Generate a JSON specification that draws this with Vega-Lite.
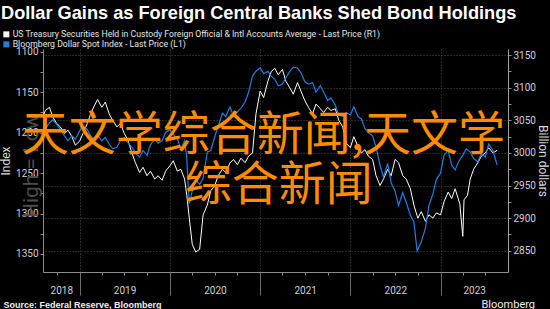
{
  "$schema": "https://vega.github.io/schema/vega-lite/v6.json",
  "width": 465,
  "height": 223,
  "autosize": {"type": "none"},
  "padding": {"left": 43, "top": 49, "right": 42, "bottom": 37},
  "background": "#000000",
  "title": {
    "text": "Dollar Gains as Foreign Central Banks Shed Bond Holdings",
    "anchor": "start",
    "frame": "group",
    "dx": -42,
    "offset": 7,
    "font": "Liberation Sans",
    "fontSize": 18.2,
    "fontWeight": "bold",
    "color": "#ffffff"
  },
  "config": {
    "view": {"stroke": null},
    "axis": {
      "labelFont": "Roboto",
      "labelFontSize": 10,
      "labelColor": "#d0d0d0",
      "titleFont": "Roboto",
      "titleFontWeight": "normal",
      "titleColor": "#d8d8d8",
      "domainColor": "#8c8c8c",
      "tickColor": "#8c8c8c",
      "gridColor": "#505050",
      "gridDash": [1, 2]
    },
    "legend": {
      "orient": "none",
      "legendX": -41,
      "legendY": -19,
      "direction": "vertical",
      "labelFont": "Roboto",
      "labelFontSize": 8.7,
      "labelColor": "#e6e6e6",
      "labelLimit": 600,
      "symbolType": "square",
      "symbolSize": 36,
      "rowPadding": -2,
      "labelOffset": 2,
      "padding": 0
    }
  },
  "datasets": {
    "bbdxy": [
      {"date": "2018-08-08", "value": 1182}, {"date": "2018-08-15", "value": 1195}, {"date": "2018-09-01", "value": 1188}, {"date": "2018-09-15", "value": 1184},
      {"date": "2018-10-01", "value": 1190}, {"date": "2018-10-15", "value": 1196}, {"date": "2018-11-01", "value": 1204}, {"date": "2018-11-15", "value": 1210},
      {"date": "2018-12-01", "value": 1204}, {"date": "2018-12-15", "value": 1208}, {"date": "2019-01-01", "value": 1198}, {"date": "2019-01-15", "value": 1192},
      {"date": "2019-02-01", "value": 1196}, {"date": "2019-02-15", "value": 1204}, {"date": "2019-03-01", "value": 1208}, {"date": "2019-03-15", "value": 1203},
      {"date": "2019-04-01", "value": 1210}, {"date": "2019-04-15", "value": 1206}, {"date": "2019-05-01", "value": 1214}, {"date": "2019-05-15", "value": 1220},
      {"date": "2019-06-01", "value": 1218}, {"date": "2019-06-15", "value": 1210}, {"date": "2019-07-01", "value": 1206}, {"date": "2019-07-15", "value": 1212},
      {"date": "2019-08-01", "value": 1218}, {"date": "2019-08-15", "value": 1225}, {"date": "2019-09-01", "value": 1230}, {"date": "2019-09-15", "value": 1222},
      {"date": "2019-10-01", "value": 1228}, {"date": "2019-10-15", "value": 1215}, {"date": "2019-11-01", "value": 1208}, {"date": "2019-11-15", "value": 1213},
      {"date": "2019-12-01", "value": 1210}, {"date": "2019-12-15", "value": 1200}, {"date": "2020-01-01", "value": 1196}, {"date": "2020-01-15", "value": 1202},
      {"date": "2020-02-01", "value": 1208}, {"date": "2020-02-15", "value": 1220}, {"date": "2020-03-01", "value": 1210}, {"date": "2020-03-09", "value": 1228},
      {"date": "2020-03-20", "value": 1288}, {"date": "2020-04-01", "value": 1272}, {"date": "2020-04-15", "value": 1258}, {"date": "2020-05-01", "value": 1264},
      {"date": "2020-05-15", "value": 1256}, {"date": "2020-06-01", "value": 1224}, {"date": "2020-06-15", "value": 1222}, {"date": "2020-07-01", "value": 1205},
      {"date": "2020-07-15", "value": 1192}, {"date": "2020-08-01", "value": 1176}, {"date": "2020-08-15", "value": 1180}, {"date": "2020-09-01", "value": 1168},
      {"date": "2020-09-15", "value": 1180}, {"date": "2020-10-01", "value": 1174}, {"date": "2020-10-15", "value": 1170}, {"date": "2020-11-01", "value": 1162},
      {"date": "2020-11-15", "value": 1150}, {"date": "2020-12-01", "value": 1130}, {"date": "2020-12-15", "value": 1124}, {"date": "2021-01-01", "value": 1120},
      {"date": "2021-01-15", "value": 1127}, {"date": "2021-02-01", "value": 1124}, {"date": "2021-02-15", "value": 1130}, {"date": "2021-03-01", "value": 1134},
      {"date": "2021-03-15", "value": 1142}, {"date": "2021-04-01", "value": 1140}, {"date": "2021-04-15", "value": 1132}, {"date": "2021-05-01", "value": 1124},
      {"date": "2021-05-15", "value": 1119}, {"date": "2021-06-01", "value": 1120}, {"date": "2021-06-15", "value": 1126}, {"date": "2021-07-01", "value": 1137},
      {"date": "2021-07-15", "value": 1140}, {"date": "2021-08-01", "value": 1138}, {"date": "2021-08-15", "value": 1150}, {"date": "2021-09-01", "value": 1142},
      {"date": "2021-09-15", "value": 1150}, {"date": "2021-10-01", "value": 1160}, {"date": "2021-10-15", "value": 1157}, {"date": "2021-11-01", "value": 1166},
      {"date": "2021-11-15", "value": 1178}, {"date": "2021-12-01", "value": 1180}, {"date": "2021-12-15", "value": 1175}, {"date": "2022-01-01", "value": 1178},
      {"date": "2022-01-15", "value": 1168}, {"date": "2022-02-01", "value": 1180}, {"date": "2022-02-15", "value": 1183}, {"date": "2022-03-01", "value": 1195},
      {"date": "2022-03-15", "value": 1200}, {"date": "2022-04-01", "value": 1204}, {"date": "2022-04-15", "value": 1218}, {"date": "2022-05-01", "value": 1240},
      {"date": "2022-05-15", "value": 1255}, {"date": "2022-06-01", "value": 1238}, {"date": "2022-06-15", "value": 1262}, {"date": "2022-07-01", "value": 1272},
      {"date": "2022-07-15", "value": 1290}, {"date": "2022-08-01", "value": 1274}, {"date": "2022-08-15", "value": 1286}, {"date": "2022-09-01", "value": 1302},
      {"date": "2022-09-15", "value": 1310}, {"date": "2022-09-28", "value": 1346}, {"date": "2022-10-15", "value": 1335}, {"date": "2022-11-01", "value": 1318},
      {"date": "2022-11-15", "value": 1290}, {"date": "2022-12-01", "value": 1276}, {"date": "2022-12-15", "value": 1258}, {"date": "2023-01-01", "value": 1250},
      {"date": "2023-01-15", "value": 1228}, {"date": "2023-02-01", "value": 1222}, {"date": "2023-02-15", "value": 1240}, {"date": "2023-03-01", "value": 1246},
      {"date": "2023-03-15", "value": 1236}, {"date": "2023-04-01", "value": 1228}, {"date": "2023-04-15", "value": 1220}, {"date": "2023-05-01", "value": 1224},
      {"date": "2023-05-15", "value": 1232}, {"date": "2023-06-01", "value": 1236}, {"date": "2023-06-15", "value": 1226}, {"date": "2023-07-01", "value": 1230},
      {"date": "2023-07-15", "value": 1214}, {"date": "2023-08-01", "value": 1222}, {"date": "2023-08-18", "value": 1240}
    ],
    "custody": [
      {"date": "2018-08-08", "value": 3058}, {"date": "2018-08-15", "value": 3065}, {"date": "2018-09-01", "value": 3070}, {"date": "2018-09-15", "value": 3055},
      {"date": "2018-10-01", "value": 3045}, {"date": "2018-10-15", "value": 3040}, {"date": "2018-11-01", "value": 3030}, {"date": "2018-11-15", "value": 3035},
      {"date": "2018-12-01", "value": 3025}, {"date": "2018-12-15", "value": 3012}, {"date": "2019-01-01", "value": 3018}, {"date": "2019-01-15", "value": 3030},
      {"date": "2019-02-01", "value": 3045}, {"date": "2019-02-15", "value": 3060}, {"date": "2019-03-01", "value": 3072}, {"date": "2019-03-15", "value": 3082},
      {"date": "2019-04-01", "value": 3070}, {"date": "2019-04-15", "value": 3078}, {"date": "2019-05-01", "value": 3060}, {"date": "2019-05-15", "value": 3050},
      {"date": "2019-06-01", "value": 3040}, {"date": "2019-06-15", "value": 3045}, {"date": "2019-07-01", "value": 3030}, {"date": "2019-07-15", "value": 3020},
      {"date": "2019-08-01", "value": 3000}, {"date": "2019-08-15", "value": 2985}, {"date": "2019-09-01", "value": 2970}, {"date": "2019-09-15", "value": 2978},
      {"date": "2019-10-01", "value": 2965}, {"date": "2019-10-15", "value": 2972}, {"date": "2019-11-01", "value": 2960}, {"date": "2019-11-15", "value": 2965},
      {"date": "2019-12-01", "value": 2958}, {"date": "2019-12-15", "value": 2972}, {"date": "2020-01-01", "value": 2980}, {"date": "2020-01-15", "value": 2988},
      {"date": "2020-02-01", "value": 2972}, {"date": "2020-02-15", "value": 2975}, {"date": "2020-03-01", "value": 2960}, {"date": "2020-03-10", "value": 2935},
      {"date": "2020-03-20", "value": 2900}, {"date": "2020-04-01", "value": 2860}, {"date": "2020-04-15", "value": 2848}, {"date": "2020-05-01", "value": 2852},
      {"date": "2020-05-15", "value": 2905}, {"date": "2020-06-01", "value": 2920}, {"date": "2020-06-15", "value": 2942}, {"date": "2020-07-01", "value": 2950},
      {"date": "2020-07-15", "value": 2965}, {"date": "2020-08-01", "value": 2975}, {"date": "2020-08-15", "value": 2970}, {"date": "2020-09-01", "value": 2985},
      {"date": "2020-09-15", "value": 2990}, {"date": "2020-10-01", "value": 2982}, {"date": "2020-10-15", "value": 2992}, {"date": "2020-11-01", "value": 2985},
      {"date": "2020-11-15", "value": 2995}, {"date": "2020-12-01", "value": 3000}, {"date": "2020-12-15", "value": 3060}, {"date": "2021-01-01", "value": 3095},
      {"date": "2021-01-15", "value": 3085}, {"date": "2021-02-01", "value": 3110}, {"date": "2021-02-15", "value": 3125}, {"date": "2021-03-01", "value": 3130},
      {"date": "2021-03-15", "value": 3120}, {"date": "2021-04-01", "value": 3128}, {"date": "2021-04-15", "value": 3110}, {"date": "2021-05-01", "value": 3100},
      {"date": "2021-05-15", "value": 3090}, {"date": "2021-06-01", "value": 3108}, {"date": "2021-06-15", "value": 3095}, {"date": "2021-07-01", "value": 3080},
      {"date": "2021-07-15", "value": 3070}, {"date": "2021-08-01", "value": 3060}, {"date": "2021-08-15", "value": 3075}, {"date": "2021-09-01", "value": 3068},
      {"date": "2021-09-15", "value": 3062}, {"date": "2021-10-01", "value": 3070}, {"date": "2021-10-15", "value": 3065}, {"date": "2021-11-01", "value": 3068},
      {"date": "2021-11-15", "value": 3050}, {"date": "2021-12-01", "value": 3040}, {"date": "2021-12-15", "value": 3015}, {"date": "2022-01-01", "value": 3008},
      {"date": "2022-01-15", "value": 3025}, {"date": "2022-02-01", "value": 3010}, {"date": "2022-02-15", "value": 3000}, {"date": "2022-03-01", "value": 3005},
      {"date": "2022-03-15", "value": 2995}, {"date": "2022-04-01", "value": 2990}, {"date": "2022-04-15", "value": 2965}, {"date": "2022-05-01", "value": 2950},
      {"date": "2022-05-15", "value": 2960}, {"date": "2022-06-01", "value": 2975}, {"date": "2022-06-15", "value": 2965}, {"date": "2022-07-01", "value": 2990},
      {"date": "2022-07-15", "value": 2985}, {"date": "2022-08-01", "value": 2965}, {"date": "2022-08-15", "value": 2960}, {"date": "2022-09-01", "value": 2945},
      {"date": "2022-09-15", "value": 2920}, {"date": "2022-10-01", "value": 2900}, {"date": "2022-10-15", "value": 2910}, {"date": "2022-11-01", "value": 2895},
      {"date": "2022-11-15", "value": 2905}, {"date": "2022-12-01", "value": 2900}, {"date": "2022-12-15", "value": 2908}, {"date": "2023-01-01", "value": 2905},
      {"date": "2023-01-15", "value": 2925}, {"date": "2023-02-01", "value": 2940}, {"date": "2023-02-15", "value": 2930}, {"date": "2023-03-01", "value": 2945},
      {"date": "2023-03-20", "value": 2922}, {"date": "2023-04-01", "value": 2872}, {"date": "2023-04-06", "value": 2928}, {"date": "2023-04-20", "value": 2935},
      {"date": "2023-05-01", "value": 2960}, {"date": "2023-05-15", "value": 2975}, {"date": "2023-06-01", "value": 2985}, {"date": "2023-06-15", "value": 2995},
      {"date": "2023-07-01", "value": 3000}, {"date": "2023-07-15", "value": 3008}, {"date": "2023-08-01", "value": 3000}, {"date": "2023-08-18", "value": 3004}
    ]
  },
  "layer": [
    {
      "data": {"values": [{"label": "High = Low", "date": "2018-06-22", "value": 1241}]},
      "mark": {"type": "text", "angle": 270, "align": "center", "baseline": "middle", "font": "Roboto", "fontSize": 21, "color": "#4d4d4d"},
      "encoding": {
        "x": {"field": "date", "type": "temporal", "scale": {"domain": [{"year": 2018, "month": 8, "date": 6}, {"year": 2023, "month": 10, "date": 1}]}, "axis": null},
        "y": {"field": "value", "type": "quantitative", "scale": {"domain": [1096.5, 1372.3], "reverse": true, "nice": false, "zero": false}, "axis": null},
        "text": {"field": "label"}
      }
    },
    {
      "data": {"name": "custody"},
      "mark": {"type": "line", "strokeWidth": 1},
      "encoding": {
        "x": {
          "field": "date", "type": "temporal",
          "scale": {"domain": [{"year": 2018, "month": 8, "date": 6}, {"year": 2023, "month": 10, "date": 1}]},
          "axis": {
            "orient": "bottom", "title": null, "labels": false, "grid": true, "tickSize": 23, "tickColor": "#6a6a6a",
            "values": [{"year": 2019, "month": 1, "date": 1}, {"year": 2020, "month": 1, "date": 1}, {"year": 2021, "month": 1, "date": 1}, {"year": 2022, "month": 1, "date": 1}, {"year": 2023, "month": 1, "date": 1}]
          }
        },
        "y": {
          "field": "value", "type": "quantitative",
          "scale": {"domain": [2817.3, 3159.5], "nice": false, "zero": false},
          "axis": {
            "orient": "right", "title": "Billion dollars", "titleFontSize": 12, "titlePadding": 0, "domainColor": "#a0a0a0",
            "values": [2850, 2875, 2900, 2925, 2950, 2975, 3000, 3025, 3050, 3075, 3100, 3125, 3150],
            "format": "d",
            "labelExpr": "datum.value % 50 === 0 ? datum.label : ''",
            "grid": true, "gridOpacity": {"condition": {"test": "datum.value % 50 === 0", "value": 1}, "value": 0},
            "tickSize": 3, "labelPadding": 2
          }
        },
        "color": {
          "datum": "US Treasury Securities Held in Custody Foreign Official & Intl Accounts Average - Last Price (R1)",
          "scale": {
            "domain": ["US Treasury Securities Held in Custody Foreign Official & Intl Accounts Average - Last Price (R1)", "Bloomberg Dollar Spot Index - Last Price (L1)"],
            "range": ["#ffffff", "#1f7fe0"]
          },
          "legend": {
            "title": null,
            "encode": {"symbols": {"update": {"fill": {"scale": "color", "field": "value"}, "strokeWidth": {"value": 0}}}}
          }
        }
      }
    },
    {
      "data": {"name": "bbdxy"},
      "mark": {"type": "line", "strokeWidth": 1.2},
      "encoding": {
        "x": {
          "field": "date", "type": "temporal",
          "scale": {"domain": [{"year": 2018, "month": 8, "date": 6}, {"year": 2023, "month": 10, "date": 1}]},
          "axis": {
            "orient": "bottom", "ticks": false, "domain": false, "grid": false, "format": "%Y", "labelPadding": 13, "labelFontSize": 10,
            "values": [{"year": 2018, "month": 10, "date": 19}, {"year": 2019, "month": 7, "date": 2}, {"year": 2020, "month": 7, "date": 2}, {"year": 2021, "month": 7, "date": 2}, {"year": 2022, "month": 7, "date": 2}, {"year": 2023, "month": 5, "date": 17}],
            "title": "Source: Federal Reserve, Bloomberg", "titleAnchor": "start", "titleAlign": "left", "titleBaseline": "alphabetic",
            "titleX": -40, "titleY": 35, "titleFontWeight": "bold", "titleFontSize": 9, "titleFont": "Liberation Sans", "titleColor": "#eeeeee"
          }
        },
        "y": {
          "field": "value", "type": "quantitative",
          "scale": {"domain": [1096.5, 1372.3], "reverse": true, "nice": false, "zero": false},
          "axis": {
            "orient": "left", "title": "Index", "titleFontSize": 12, "titlePadding": 3, "grid": false,
            "values": [1100, 1125, 1150, 1175, 1200, 1225, 1250, 1275, 1300, 1325, 1350],
            "format": "d",
            "labelExpr": "datum.value % 50 === 0 ? datum.label : ''",
            "tickSize": 3, "labelPadding": 2
          }
        },
        "color": {"datum": "Bloomberg Dollar Spot Index - Last Price (L1)"}
      }
    },
    {
      "data": {"values": [
        {"label": "天文学综合新闻,天文学", "date": "2021-01-14", "value": 1204},
        {"label": "综合新闻", "date": "2021-03-17", "value": 1266}
      ]},
      "mark": {"type": "text", "align": "center", "baseline": "middle", "font": "Noto Sans CJK SC", "fontSize": 47, "color": "#ff8c00"},
      "encoding": {
        "x": {
          "field": "date", "type": "temporal",
          "scale": {"domain": [{"year": 2018, "month": 8, "date": 6}, {"year": 2023, "month": 10, "date": 1}]},
          "axis": {
            "orient": "bottom", "labels": false, "grid": false, "domain": false, "tickSize": 3, "tickColor": "#8c8c8c",
            "values": [{"year": 2018, "month": 10, "date": 1}, {"year": 2019, "month": 4, "date": 1}, {"year": 2019, "month": 7, "date": 1}, {"year": 2019, "month": 10, "date": 1}, {"year": 2020, "month": 4, "date": 1}, {"year": 2020, "month": 7, "date": 1}, {"year": 2020, "month": 10, "date": 1}, {"year": 2021, "month": 4, "date": 1}, {"year": 2021, "month": 7, "date": 1}, {"year": 2021, "month": 10, "date": 1}, {"year": 2022, "month": 4, "date": 1}, {"year": 2022, "month": 7, "date": 1}, {"year": 2022, "month": 10, "date": 1}, {"year": 2023, "month": 4, "date": 1}, {"year": 2023, "month": 7, "date": 1}],
            "title": "Bloomberg", "titleAnchor": "start", "titleAlign": "left", "titleBaseline": "alphabetic",
            "titleX": 438, "titleY": 35, "titleFontSize": 11, "titleFont": "Roboto", "titleFontWeight": "normal", "titleColor": "#eeeeee"
          }
        },
        "y": {"field": "value", "type": "quantitative", "scale": {"domain": [1096.5, 1372.3], "reverse": true, "nice": false, "zero": false}, "axis": null},
        "text": {"field": "label"}
      }
    }
  ],
  "resolve": {"scale": {"y": "independent"}, "axis": {"x": "independent"}}
}
